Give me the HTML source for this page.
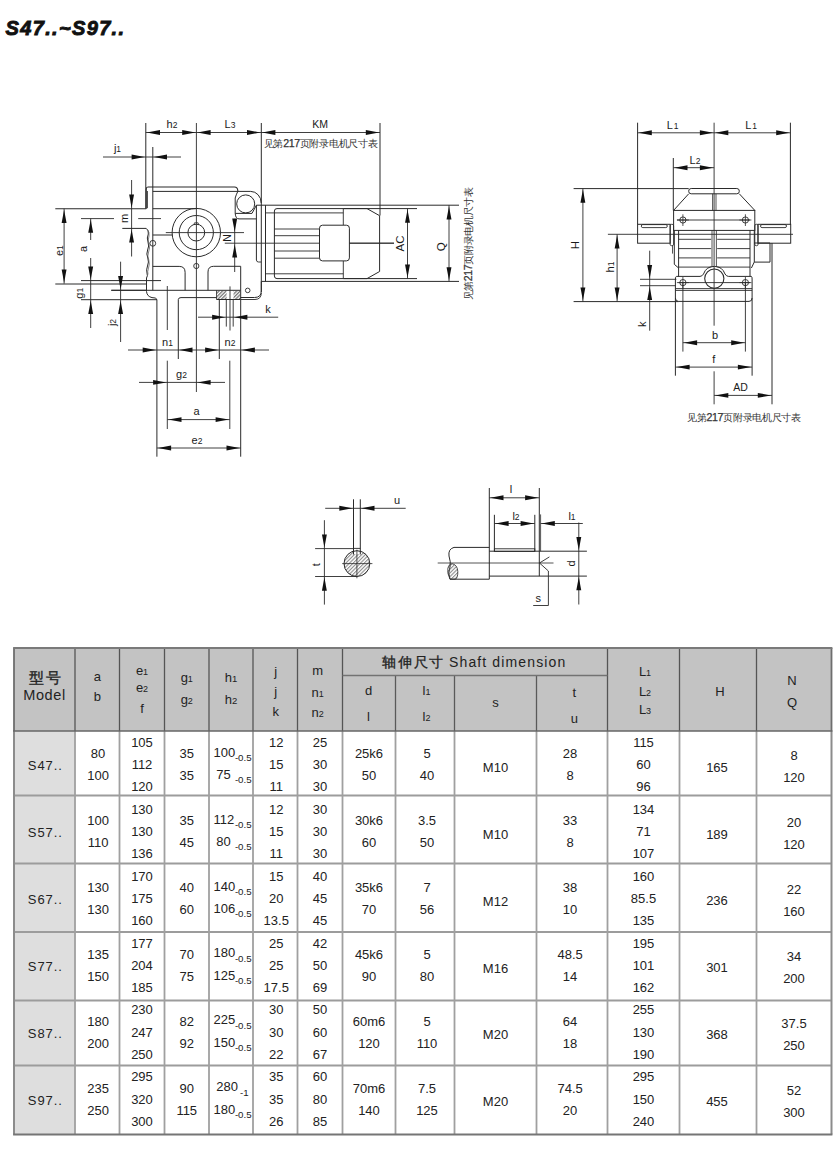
<!DOCTYPE html>
<html><head><meta charset="utf-8"><style>
html,body{margin:0;padding:0;background:#fff;}
svg{display:block;}
text{font-family:"Liberation Sans", sans-serif;}
</style></head><body>
<svg width="840" height="1154" viewBox="0 0 840 1154">
<rect width="840" height="1154" fill="#fff"/>
<rect x="14" y="648" width="817.5" height="83" fill="#c3c3c3"/>
<rect x="14" y="731" width="61" height="403.5" fill="#dedede"/>
<line x1="14" y1="795.5" x2="831.5" y2="795.5" stroke="#9c9c9c" stroke-width="1.9"/>
<line x1="14" y1="863.5" x2="831.5" y2="863.5" stroke="#9c9c9c" stroke-width="1.9"/>
<line x1="14" y1="932" x2="831.5" y2="932" stroke="#9c9c9c" stroke-width="1.9"/>
<line x1="14" y1="1000.5" x2="831.5" y2="1000.5" stroke="#9c9c9c" stroke-width="1.9"/>
<line x1="14" y1="1065.5" x2="831.5" y2="1065.5" stroke="#9c9c9c" stroke-width="1.9"/>
<line x1="14" y1="731" x2="14" y2="1134.5" stroke="#8c8c8c" stroke-width="2.0"/>
<line x1="75" y1="731" x2="75" y2="1134.5" stroke="#a0a0a0" stroke-width="1.8"/>
<line x1="119.5" y1="731" x2="119.5" y2="1134.5" stroke="#a0a0a0" stroke-width="1.8"/>
<line x1="164.5" y1="731" x2="164.5" y2="1134.5" stroke="#a0a0a0" stroke-width="1.8"/>
<line x1="209" y1="731" x2="209" y2="1134.5" stroke="#a0a0a0" stroke-width="1.8"/>
<line x1="253" y1="731" x2="253" y2="1134.5" stroke="#a0a0a0" stroke-width="1.8"/>
<line x1="297.5" y1="731" x2="297.5" y2="1134.5" stroke="#a0a0a0" stroke-width="1.8"/>
<line x1="342.5" y1="731" x2="342.5" y2="1134.5" stroke="#a0a0a0" stroke-width="1.8"/>
<line x1="395.5" y1="731" x2="395.5" y2="1134.5" stroke="#a0a0a0" stroke-width="1.8"/>
<line x1="454.5" y1="731" x2="454.5" y2="1134.5" stroke="#a0a0a0" stroke-width="1.8"/>
<line x1="536.5" y1="731" x2="536.5" y2="1134.5" stroke="#a0a0a0" stroke-width="1.8"/>
<line x1="607.5" y1="731" x2="607.5" y2="1134.5" stroke="#a0a0a0" stroke-width="1.8"/>
<line x1="679.5" y1="731" x2="679.5" y2="1134.5" stroke="#a0a0a0" stroke-width="1.8"/>
<line x1="756.5" y1="731" x2="756.5" y2="1134.5" stroke="#a0a0a0" stroke-width="1.8"/>
<line x1="831.5" y1="731" x2="831.5" y2="1134.5" stroke="#8c8c8c" stroke-width="2.0"/>
<line x1="14" y1="648" x2="14" y2="731" stroke="#6e6e6e" stroke-width="1.8"/>
<line x1="75" y1="648" x2="75" y2="731" stroke="#555" stroke-width="1.3"/>
<line x1="119.5" y1="648" x2="119.5" y2="731" stroke="#555" stroke-width="1.3"/>
<line x1="164.5" y1="648" x2="164.5" y2="731" stroke="#555" stroke-width="1.3"/>
<line x1="209" y1="648" x2="209" y2="731" stroke="#555" stroke-width="1.3"/>
<line x1="253" y1="648" x2="253" y2="731" stroke="#555" stroke-width="1.3"/>
<line x1="297.5" y1="648" x2="297.5" y2="731" stroke="#555" stroke-width="1.3"/>
<line x1="342.5" y1="648" x2="342.5" y2="731" stroke="#555" stroke-width="1.3"/>
<line x1="395.5" y1="675.5" x2="395.5" y2="731" stroke="#5a5a5a" stroke-width="1.3"/>
<line x1="454.5" y1="675.5" x2="454.5" y2="731" stroke="#5a5a5a" stroke-width="1.3"/>
<line x1="536.5" y1="675.5" x2="536.5" y2="731" stroke="#5a5a5a" stroke-width="1.3"/>
<line x1="607.5" y1="648" x2="607.5" y2="731" stroke="#555" stroke-width="1.3"/>
<line x1="679.5" y1="648" x2="679.5" y2="731" stroke="#555" stroke-width="1.3"/>
<line x1="756.5" y1="648" x2="756.5" y2="731" stroke="#555" stroke-width="1.3"/>
<line x1="831.5" y1="648" x2="831.5" y2="731" stroke="#6e6e6e" stroke-width="1.8"/>
<line x1="342.5" y1="675.5" x2="607.5" y2="675.5" stroke="#737373" stroke-width="1.3"/>
<line x1="13.1" y1="648" x2="832.4" y2="648" stroke="#7a7a7a" stroke-width="1.8"/>
<line x1="13.1" y1="731" x2="832.4" y2="731" stroke="#666" stroke-width="1.7"/>
<line x1="13.1" y1="1134.5" x2="832.4" y2="1134.5" stroke="#757575" stroke-width="2.0"/>
<text x="45.7" y="682.6" font-size="15" text-anchor="middle" letter-spacing="1.8" fill="#222" stroke="#222" stroke-width="0.35">型号</text>
<text x="44.5" y="699.5" font-size="14.5" text-anchor="middle" font-weight="normal" font-style="normal" fill="#222" letter-spacing="0.6">Model</text>
<text x="97.25" y="681" font-size="13" text-anchor="middle" font-weight="normal" font-style="normal" fill="#222">a</text>
<text x="97.25" y="700.5" font-size="13" text-anchor="middle" font-weight="normal" font-style="normal" fill="#222">b</text>
<text x="142.0" y="674.5" font-size="13" text-anchor="middle" font-weight="normal" font-style="normal" fill="#222">e<tspan font-size="9">1</tspan></text>
<text x="142.0" y="692" font-size="13" text-anchor="middle" font-weight="normal" font-style="normal" fill="#222">e<tspan font-size="9">2</tspan></text>
<text x="142.0" y="713" font-size="13" text-anchor="middle" font-weight="normal" font-style="normal" fill="#222">f</text>
<text x="186.75" y="682" font-size="13" text-anchor="middle" font-weight="normal" font-style="normal" fill="#222">g<tspan font-size="9">1</tspan></text>
<text x="186.75" y="704" font-size="13" text-anchor="middle" font-weight="normal" font-style="normal" fill="#222">g<tspan font-size="9">2</tspan></text>
<text x="231.0" y="681.6" font-size="13" text-anchor="middle" font-weight="normal" font-style="normal" fill="#222">h<tspan font-size="9.5">1</tspan></text>
<text x="231.0" y="704.2" font-size="13" text-anchor="middle" font-weight="normal" font-style="normal" fill="#222">h<tspan font-size="9.5">2</tspan></text>
<text x="275.75" y="676.3" font-size="13" text-anchor="middle" font-weight="normal" font-style="normal" fill="#222">j</text>
<text x="275.75" y="696" font-size="13" text-anchor="middle" font-weight="normal" font-style="normal" fill="#222">j</text>
<text x="275.75" y="716.3" font-size="13" text-anchor="middle" font-weight="normal" font-style="normal" fill="#222">k</text>
<text x="317.6" y="675" font-size="13" text-anchor="middle" font-weight="normal" font-style="normal" fill="#222">m</text>
<text x="317.6" y="697" font-size="13" text-anchor="middle" font-weight="normal" font-style="normal" fill="#222">n<tspan font-size="9">1</tspan></text>
<text x="317.6" y="716.5" font-size="13" text-anchor="middle" font-weight="normal" font-style="normal" fill="#222">n<tspan font-size="9">2</tspan></text>
<text x="382.4" y="667.2" font-size="14" letter-spacing="1.6" fill="#222" stroke="#222" stroke-width="0.3">轴伸尺寸</text>
<text x="449" y="667" font-size="14" text-anchor="start" font-weight="normal" font-style="normal" fill="#222" letter-spacing="1.13">Shaft dimension</text>
<text x="368.5" y="694.6" font-size="13" text-anchor="middle" font-weight="normal" font-style="normal" fill="#222">d</text>
<text x="368.5" y="721.3" font-size="13" text-anchor="middle" font-weight="normal" font-style="normal" fill="#222">l</text>
<text x="426.5" y="694.7" font-size="13" text-anchor="middle" font-weight="normal" font-style="normal" fill="#222">l<tspan font-size="9">1</tspan></text>
<text x="426.5" y="721" font-size="13" text-anchor="middle" font-weight="normal" font-style="normal" fill="#222">l<tspan font-size="9">2</tspan></text>
<text x="495.5" y="706.5" font-size="13" text-anchor="middle" font-weight="normal" font-style="normal" fill="#222">s</text>
<text x="574.3" y="696.6" font-size="13" text-anchor="middle" font-weight="normal" font-style="normal" fill="#222">t</text>
<text x="574.3" y="723" font-size="13" text-anchor="middle" font-weight="normal" font-style="normal" fill="#222">u</text>
<text x="645.0" y="675.5" font-size="13" text-anchor="middle" font-weight="normal" font-style="normal" fill="#222">L<tspan font-size="9">1</tspan></text>
<text x="645.0" y="696" font-size="13" text-anchor="middle" font-weight="normal" font-style="normal" fill="#222">L<tspan font-size="9">2</tspan></text>
<text x="645.0" y="713.5" font-size="13" text-anchor="middle" font-weight="normal" font-style="normal" fill="#222">L<tspan font-size="9">3</tspan></text>
<text x="720.0" y="695.5" font-size="13" text-anchor="middle" font-weight="normal" font-style="normal" fill="#222">H</text>
<text x="792.0" y="685" font-size="13" text-anchor="middle" font-weight="normal" font-style="normal" fill="#222">N</text>
<text x="792.0" y="706.5" font-size="13" text-anchor="middle" font-weight="normal" font-style="normal" fill="#222">Q</text>
<text x="45.3" y="770.2" font-size="13" text-anchor="middle" font-weight="normal" font-style="normal" fill="#222" letter-spacing="0.9">S47..</text>
<text x="98.05" y="758.15" font-size="13" text-anchor="middle" font-weight="normal" font-style="normal" fill="#222">80</text>
<text x="98.05" y="780.35" font-size="13" text-anchor="middle" font-weight="normal" font-style="normal" fill="#222">100</text>
<text x="142.0" y="746.75" font-size="13" text-anchor="middle" font-weight="normal" font-style="normal" fill="#222">105</text>
<text x="142.0" y="769.1" font-size="13" text-anchor="middle" font-weight="normal" font-style="normal" fill="#222">112</text>
<text x="142.0" y="791.4" font-size="13" text-anchor="middle" font-weight="normal" font-style="normal" fill="#222">120</text>
<text x="186.75" y="758.15" font-size="13" text-anchor="middle" font-weight="normal" font-style="normal" fill="#222">35</text>
<text x="186.75" y="780.35" font-size="13" text-anchor="middle" font-weight="normal" font-style="normal" fill="#222">35</text>
<text x="213.6" y="756.7" font-size="13" text-anchor="start" font-weight="normal" font-style="normal" fill="#222">100</text>
<text x="251.6" y="761.1" font-size="9.7" text-anchor="end" font-weight="normal" font-style="normal" fill="#222">-0.5</text>
<text x="216.2" y="779.0" font-size="13" text-anchor="start" font-weight="normal" font-style="normal" fill="#222">75</text>
<text x="251.6" y="783.4" font-size="9.7" text-anchor="end" font-weight="normal" font-style="normal" fill="#222">-0.5</text>
<text x="276.25" y="746.75" font-size="13" text-anchor="middle" font-weight="normal" font-style="normal" fill="#222">12</text>
<text x="276.25" y="769.1" font-size="13" text-anchor="middle" font-weight="normal" font-style="normal" fill="#222">15</text>
<text x="276.25" y="791.4" font-size="13" text-anchor="middle" font-weight="normal" font-style="normal" fill="#222">11</text>
<text x="320.0" y="746.75" font-size="13" text-anchor="middle" font-weight="normal" font-style="normal" fill="#222">25</text>
<text x="320.0" y="769.1" font-size="13" text-anchor="middle" font-weight="normal" font-style="normal" fill="#222">30</text>
<text x="320.0" y="791.4" font-size="13" text-anchor="middle" font-weight="normal" font-style="normal" fill="#222">30</text>
<text x="369.0" y="758.15" font-size="13" text-anchor="middle" font-weight="normal" font-style="normal" fill="#222">25k6</text>
<text x="369.0" y="780.35" font-size="13" text-anchor="middle" font-weight="normal" font-style="normal" fill="#222">50</text>
<text x="427.0" y="758.15" font-size="13" text-anchor="middle" font-weight="normal" font-style="normal" fill="#222">5</text>
<text x="427.0" y="780.35" font-size="13" text-anchor="middle" font-weight="normal" font-style="normal" fill="#222">40</text>
<text x="495.5" y="771.8000000000001" font-size="13" text-anchor="middle" font-weight="normal" font-style="normal" fill="#222">M10</text>
<text x="570.1" y="758.15" font-size="13" text-anchor="middle" font-weight="normal" font-style="normal" fill="#222">28</text>
<text x="570.1" y="780.35" font-size="13" text-anchor="middle" font-weight="normal" font-style="normal" fill="#222">8</text>
<text x="643.5" y="746.75" font-size="13" text-anchor="middle" font-weight="normal" font-style="normal" fill="#222">115</text>
<text x="643.5" y="769.1" font-size="13" text-anchor="middle" font-weight="normal" font-style="normal" fill="#222">60</text>
<text x="643.5" y="791.4" font-size="13" text-anchor="middle" font-weight="normal" font-style="normal" fill="#222">96</text>
<text x="717.0" y="771.6" font-size="13" text-anchor="middle" font-weight="normal" font-style="normal" fill="#222">165</text>
<text x="794.0" y="760.2" font-size="13" text-anchor="middle" font-weight="normal" font-style="normal" fill="#222">8</text>
<text x="794.0" y="782.3000000000001" font-size="13" text-anchor="middle" font-weight="normal" font-style="normal" fill="#222">120</text>
<text x="45.3" y="837.12" font-size="13" text-anchor="middle" font-weight="normal" font-style="normal" fill="#222" letter-spacing="0.9">S57..</text>
<text x="98.05" y="825.0699999999999" font-size="13" text-anchor="middle" font-weight="normal" font-style="normal" fill="#222">100</text>
<text x="98.05" y="847.27" font-size="13" text-anchor="middle" font-weight="normal" font-style="normal" fill="#222">110</text>
<text x="142.0" y="813.67" font-size="13" text-anchor="middle" font-weight="normal" font-style="normal" fill="#222">130</text>
<text x="142.0" y="836.02" font-size="13" text-anchor="middle" font-weight="normal" font-style="normal" fill="#222">130</text>
<text x="142.0" y="858.3199999999999" font-size="13" text-anchor="middle" font-weight="normal" font-style="normal" fill="#222">136</text>
<text x="186.75" y="825.0699999999999" font-size="13" text-anchor="middle" font-weight="normal" font-style="normal" fill="#222">35</text>
<text x="186.75" y="847.27" font-size="13" text-anchor="middle" font-weight="normal" font-style="normal" fill="#222">45</text>
<text x="213.6" y="823.62" font-size="13" text-anchor="start" font-weight="normal" font-style="normal" fill="#222">112</text>
<text x="251.6" y="828.02" font-size="9.7" text-anchor="end" font-weight="normal" font-style="normal" fill="#222">-0.5</text>
<text x="216.2" y="845.92" font-size="13" text-anchor="start" font-weight="normal" font-style="normal" fill="#222">80</text>
<text x="251.6" y="850.3199999999999" font-size="9.7" text-anchor="end" font-weight="normal" font-style="normal" fill="#222">-0.5</text>
<text x="276.25" y="813.67" font-size="13" text-anchor="middle" font-weight="normal" font-style="normal" fill="#222">12</text>
<text x="276.25" y="836.02" font-size="13" text-anchor="middle" font-weight="normal" font-style="normal" fill="#222">15</text>
<text x="276.25" y="858.3199999999999" font-size="13" text-anchor="middle" font-weight="normal" font-style="normal" fill="#222">11</text>
<text x="320.0" y="813.67" font-size="13" text-anchor="middle" font-weight="normal" font-style="normal" fill="#222">30</text>
<text x="320.0" y="836.02" font-size="13" text-anchor="middle" font-weight="normal" font-style="normal" fill="#222">30</text>
<text x="320.0" y="858.3199999999999" font-size="13" text-anchor="middle" font-weight="normal" font-style="normal" fill="#222">30</text>
<text x="369.0" y="825.0699999999999" font-size="13" text-anchor="middle" font-weight="normal" font-style="normal" fill="#222">30k6</text>
<text x="369.0" y="847.27" font-size="13" text-anchor="middle" font-weight="normal" font-style="normal" fill="#222">60</text>
<text x="427.0" y="825.0699999999999" font-size="13" text-anchor="middle" font-weight="normal" font-style="normal" fill="#222">3.5</text>
<text x="427.0" y="847.27" font-size="13" text-anchor="middle" font-weight="normal" font-style="normal" fill="#222">50</text>
<text x="495.5" y="838.72" font-size="13" text-anchor="middle" font-weight="normal" font-style="normal" fill="#222">M10</text>
<text x="570.1" y="825.0699999999999" font-size="13" text-anchor="middle" font-weight="normal" font-style="normal" fill="#222">33</text>
<text x="570.1" y="847.27" font-size="13" text-anchor="middle" font-weight="normal" font-style="normal" fill="#222">8</text>
<text x="643.5" y="813.67" font-size="13" text-anchor="middle" font-weight="normal" font-style="normal" fill="#222">134</text>
<text x="643.5" y="836.02" font-size="13" text-anchor="middle" font-weight="normal" font-style="normal" fill="#222">71</text>
<text x="643.5" y="858.3199999999999" font-size="13" text-anchor="middle" font-weight="normal" font-style="normal" fill="#222">107</text>
<text x="717.0" y="838.52" font-size="13" text-anchor="middle" font-weight="normal" font-style="normal" fill="#222">189</text>
<text x="794.0" y="827.12" font-size="13" text-anchor="middle" font-weight="normal" font-style="normal" fill="#222">20</text>
<text x="794.0" y="849.22" font-size="13" text-anchor="middle" font-weight="normal" font-style="normal" fill="#222">120</text>
<text x="45.3" y="904.0400000000001" font-size="13" text-anchor="middle" font-weight="normal" font-style="normal" fill="#222" letter-spacing="0.9">S67..</text>
<text x="98.05" y="891.99" font-size="13" text-anchor="middle" font-weight="normal" font-style="normal" fill="#222">130</text>
<text x="98.05" y="914.19" font-size="13" text-anchor="middle" font-weight="normal" font-style="normal" fill="#222">130</text>
<text x="142.0" y="880.59" font-size="13" text-anchor="middle" font-weight="normal" font-style="normal" fill="#222">170</text>
<text x="142.0" y="902.94" font-size="13" text-anchor="middle" font-weight="normal" font-style="normal" fill="#222">175</text>
<text x="142.0" y="925.24" font-size="13" text-anchor="middle" font-weight="normal" font-style="normal" fill="#222">160</text>
<text x="186.75" y="891.99" font-size="13" text-anchor="middle" font-weight="normal" font-style="normal" fill="#222">40</text>
<text x="186.75" y="914.19" font-size="13" text-anchor="middle" font-weight="normal" font-style="normal" fill="#222">60</text>
<text x="213.6" y="890.5400000000001" font-size="13" text-anchor="start" font-weight="normal" font-style="normal" fill="#222">140</text>
<text x="251.6" y="894.94" font-size="9.7" text-anchor="end" font-weight="normal" font-style="normal" fill="#222">-0.5</text>
<text x="213.6" y="912.84" font-size="13" text-anchor="start" font-weight="normal" font-style="normal" fill="#222">106</text>
<text x="251.6" y="917.24" font-size="9.7" text-anchor="end" font-weight="normal" font-style="normal" fill="#222">-0.5</text>
<text x="276.25" y="880.59" font-size="13" text-anchor="middle" font-weight="normal" font-style="normal" fill="#222">15</text>
<text x="276.25" y="902.94" font-size="13" text-anchor="middle" font-weight="normal" font-style="normal" fill="#222">20</text>
<text x="276.25" y="925.24" font-size="13" text-anchor="middle" font-weight="normal" font-style="normal" fill="#222">13.5</text>
<text x="320.0" y="880.59" font-size="13" text-anchor="middle" font-weight="normal" font-style="normal" fill="#222">40</text>
<text x="320.0" y="902.94" font-size="13" text-anchor="middle" font-weight="normal" font-style="normal" fill="#222">45</text>
<text x="320.0" y="925.24" font-size="13" text-anchor="middle" font-weight="normal" font-style="normal" fill="#222">45</text>
<text x="369.0" y="891.99" font-size="13" text-anchor="middle" font-weight="normal" font-style="normal" fill="#222">35k6</text>
<text x="369.0" y="914.19" font-size="13" text-anchor="middle" font-weight="normal" font-style="normal" fill="#222">70</text>
<text x="427.0" y="891.99" font-size="13" text-anchor="middle" font-weight="normal" font-style="normal" fill="#222">7</text>
<text x="427.0" y="914.19" font-size="13" text-anchor="middle" font-weight="normal" font-style="normal" fill="#222">56</text>
<text x="495.5" y="905.6400000000001" font-size="13" text-anchor="middle" font-weight="normal" font-style="normal" fill="#222">M12</text>
<text x="570.1" y="891.99" font-size="13" text-anchor="middle" font-weight="normal" font-style="normal" fill="#222">38</text>
<text x="570.1" y="914.19" font-size="13" text-anchor="middle" font-weight="normal" font-style="normal" fill="#222">10</text>
<text x="643.5" y="880.59" font-size="13" text-anchor="middle" font-weight="normal" font-style="normal" fill="#222">160</text>
<text x="643.5" y="902.94" font-size="13" text-anchor="middle" font-weight="normal" font-style="normal" fill="#222">85.5</text>
<text x="643.5" y="925.24" font-size="13" text-anchor="middle" font-weight="normal" font-style="normal" fill="#222">135</text>
<text x="717.0" y="905.44" font-size="13" text-anchor="middle" font-weight="normal" font-style="normal" fill="#222">236</text>
<text x="794.0" y="894.0400000000001" font-size="13" text-anchor="middle" font-weight="normal" font-style="normal" fill="#222">22</text>
<text x="794.0" y="916.1400000000001" font-size="13" text-anchor="middle" font-weight="normal" font-style="normal" fill="#222">160</text>
<text x="45.3" y="970.96" font-size="13" text-anchor="middle" font-weight="normal" font-style="normal" fill="#222" letter-spacing="0.9">S77..</text>
<text x="98.05" y="958.91" font-size="13" text-anchor="middle" font-weight="normal" font-style="normal" fill="#222">135</text>
<text x="98.05" y="981.11" font-size="13" text-anchor="middle" font-weight="normal" font-style="normal" fill="#222">150</text>
<text x="142.0" y="947.51" font-size="13" text-anchor="middle" font-weight="normal" font-style="normal" fill="#222">177</text>
<text x="142.0" y="969.86" font-size="13" text-anchor="middle" font-weight="normal" font-style="normal" fill="#222">204</text>
<text x="142.0" y="992.16" font-size="13" text-anchor="middle" font-weight="normal" font-style="normal" fill="#222">185</text>
<text x="186.75" y="958.91" font-size="13" text-anchor="middle" font-weight="normal" font-style="normal" fill="#222">70</text>
<text x="186.75" y="981.11" font-size="13" text-anchor="middle" font-weight="normal" font-style="normal" fill="#222">75</text>
<text x="213.6" y="957.46" font-size="13" text-anchor="start" font-weight="normal" font-style="normal" fill="#222">180</text>
<text x="251.6" y="961.86" font-size="9.7" text-anchor="end" font-weight="normal" font-style="normal" fill="#222">-0.5</text>
<text x="213.6" y="979.76" font-size="13" text-anchor="start" font-weight="normal" font-style="normal" fill="#222">125</text>
<text x="251.6" y="984.16" font-size="9.7" text-anchor="end" font-weight="normal" font-style="normal" fill="#222">-0.5</text>
<text x="276.25" y="947.51" font-size="13" text-anchor="middle" font-weight="normal" font-style="normal" fill="#222">25</text>
<text x="276.25" y="969.86" font-size="13" text-anchor="middle" font-weight="normal" font-style="normal" fill="#222">25</text>
<text x="276.25" y="992.16" font-size="13" text-anchor="middle" font-weight="normal" font-style="normal" fill="#222">17.5</text>
<text x="320.0" y="947.51" font-size="13" text-anchor="middle" font-weight="normal" font-style="normal" fill="#222">42</text>
<text x="320.0" y="969.86" font-size="13" text-anchor="middle" font-weight="normal" font-style="normal" fill="#222">50</text>
<text x="320.0" y="992.16" font-size="13" text-anchor="middle" font-weight="normal" font-style="normal" fill="#222">69</text>
<text x="369.0" y="958.91" font-size="13" text-anchor="middle" font-weight="normal" font-style="normal" fill="#222">45k6</text>
<text x="369.0" y="981.11" font-size="13" text-anchor="middle" font-weight="normal" font-style="normal" fill="#222">90</text>
<text x="427.0" y="958.91" font-size="13" text-anchor="middle" font-weight="normal" font-style="normal" fill="#222">5</text>
<text x="427.0" y="981.11" font-size="13" text-anchor="middle" font-weight="normal" font-style="normal" fill="#222">80</text>
<text x="495.5" y="972.5600000000001" font-size="13" text-anchor="middle" font-weight="normal" font-style="normal" fill="#222">M16</text>
<text x="570.1" y="958.91" font-size="13" text-anchor="middle" font-weight="normal" font-style="normal" fill="#222">48.5</text>
<text x="570.1" y="981.11" font-size="13" text-anchor="middle" font-weight="normal" font-style="normal" fill="#222">14</text>
<text x="643.5" y="947.51" font-size="13" text-anchor="middle" font-weight="normal" font-style="normal" fill="#222">195</text>
<text x="643.5" y="969.86" font-size="13" text-anchor="middle" font-weight="normal" font-style="normal" fill="#222">101</text>
<text x="643.5" y="992.16" font-size="13" text-anchor="middle" font-weight="normal" font-style="normal" fill="#222">162</text>
<text x="717.0" y="972.36" font-size="13" text-anchor="middle" font-weight="normal" font-style="normal" fill="#222">301</text>
<text x="794.0" y="960.96" font-size="13" text-anchor="middle" font-weight="normal" font-style="normal" fill="#222">34</text>
<text x="794.0" y="983.0600000000001" font-size="13" text-anchor="middle" font-weight="normal" font-style="normal" fill="#222">200</text>
<text x="45.3" y="1037.8799999999999" font-size="13" text-anchor="middle" font-weight="normal" font-style="normal" fill="#222" letter-spacing="0.9">S87..</text>
<text x="98.05" y="1025.83" font-size="13" text-anchor="middle" font-weight="normal" font-style="normal" fill="#222">180</text>
<text x="98.05" y="1048.03" font-size="13" text-anchor="middle" font-weight="normal" font-style="normal" fill="#222">200</text>
<text x="142.0" y="1014.43" font-size="13" text-anchor="middle" font-weight="normal" font-style="normal" fill="#222">230</text>
<text x="142.0" y="1036.78" font-size="13" text-anchor="middle" font-weight="normal" font-style="normal" fill="#222">247</text>
<text x="142.0" y="1059.08" font-size="13" text-anchor="middle" font-weight="normal" font-style="normal" fill="#222">250</text>
<text x="186.75" y="1025.83" font-size="13" text-anchor="middle" font-weight="normal" font-style="normal" fill="#222">82</text>
<text x="186.75" y="1048.03" font-size="13" text-anchor="middle" font-weight="normal" font-style="normal" fill="#222">92</text>
<text x="213.6" y="1024.3799999999999" font-size="13" text-anchor="start" font-weight="normal" font-style="normal" fill="#222">225</text>
<text x="251.6" y="1028.78" font-size="9.7" text-anchor="end" font-weight="normal" font-style="normal" fill="#222">-0.5</text>
<text x="213.6" y="1046.68" font-size="13" text-anchor="start" font-weight="normal" font-style="normal" fill="#222">150</text>
<text x="251.6" y="1051.0800000000002" font-size="9.7" text-anchor="end" font-weight="normal" font-style="normal" fill="#222">-0.5</text>
<text x="276.25" y="1014.43" font-size="13" text-anchor="middle" font-weight="normal" font-style="normal" fill="#222">30</text>
<text x="276.25" y="1036.78" font-size="13" text-anchor="middle" font-weight="normal" font-style="normal" fill="#222">30</text>
<text x="276.25" y="1059.08" font-size="13" text-anchor="middle" font-weight="normal" font-style="normal" fill="#222">22</text>
<text x="320.0" y="1014.43" font-size="13" text-anchor="middle" font-weight="normal" font-style="normal" fill="#222">50</text>
<text x="320.0" y="1036.78" font-size="13" text-anchor="middle" font-weight="normal" font-style="normal" fill="#222">60</text>
<text x="320.0" y="1059.08" font-size="13" text-anchor="middle" font-weight="normal" font-style="normal" fill="#222">67</text>
<text x="369.0" y="1025.83" font-size="13" text-anchor="middle" font-weight="normal" font-style="normal" fill="#222">60m6</text>
<text x="369.0" y="1048.03" font-size="13" text-anchor="middle" font-weight="normal" font-style="normal" fill="#222">120</text>
<text x="427.0" y="1025.83" font-size="13" text-anchor="middle" font-weight="normal" font-style="normal" fill="#222">5</text>
<text x="427.0" y="1048.03" font-size="13" text-anchor="middle" font-weight="normal" font-style="normal" fill="#222">110</text>
<text x="495.5" y="1039.48" font-size="13" text-anchor="middle" font-weight="normal" font-style="normal" fill="#222">M20</text>
<text x="570.1" y="1025.83" font-size="13" text-anchor="middle" font-weight="normal" font-style="normal" fill="#222">64</text>
<text x="570.1" y="1048.03" font-size="13" text-anchor="middle" font-weight="normal" font-style="normal" fill="#222">18</text>
<text x="643.5" y="1014.43" font-size="13" text-anchor="middle" font-weight="normal" font-style="normal" fill="#222">255</text>
<text x="643.5" y="1036.78" font-size="13" text-anchor="middle" font-weight="normal" font-style="normal" fill="#222">130</text>
<text x="643.5" y="1059.08" font-size="13" text-anchor="middle" font-weight="normal" font-style="normal" fill="#222">190</text>
<text x="717.0" y="1039.28" font-size="13" text-anchor="middle" font-weight="normal" font-style="normal" fill="#222">368</text>
<text x="794.0" y="1027.8799999999999" font-size="13" text-anchor="middle" font-weight="normal" font-style="normal" fill="#222">37.5</text>
<text x="794.0" y="1049.98" font-size="13" text-anchor="middle" font-weight="normal" font-style="normal" fill="#222">250</text>
<text x="45.3" y="1104.8" font-size="13" text-anchor="middle" font-weight="normal" font-style="normal" fill="#222" letter-spacing="0.9">S97..</text>
<text x="98.05" y="1092.75" font-size="13" text-anchor="middle" font-weight="normal" font-style="normal" fill="#222">235</text>
<text x="98.05" y="1114.95" font-size="13" text-anchor="middle" font-weight="normal" font-style="normal" fill="#222">250</text>
<text x="142.0" y="1081.3500000000001" font-size="13" text-anchor="middle" font-weight="normal" font-style="normal" fill="#222">295</text>
<text x="142.0" y="1103.7" font-size="13" text-anchor="middle" font-weight="normal" font-style="normal" fill="#222">320</text>
<text x="142.0" y="1126.0" font-size="13" text-anchor="middle" font-weight="normal" font-style="normal" fill="#222">300</text>
<text x="186.75" y="1092.75" font-size="13" text-anchor="middle" font-weight="normal" font-style="normal" fill="#222">90</text>
<text x="186.75" y="1114.95" font-size="13" text-anchor="middle" font-weight="normal" font-style="normal" fill="#222">115</text>
<text x="216.2" y="1091.3" font-size="13" text-anchor="start" font-weight="normal" font-style="normal" fill="#222">280</text>
<text x="240" y="1095.7" font-size="9.7" text-anchor="start" font-weight="normal" font-style="normal" fill="#222">-1</text>
<text x="213.6" y="1113.6000000000001" font-size="13" text-anchor="start" font-weight="normal" font-style="normal" fill="#222">180</text>
<text x="251.6" y="1118.0000000000002" font-size="9.7" text-anchor="end" font-weight="normal" font-style="normal" fill="#222">-0.5</text>
<text x="276.25" y="1081.3500000000001" font-size="13" text-anchor="middle" font-weight="normal" font-style="normal" fill="#222">35</text>
<text x="276.25" y="1103.7" font-size="13" text-anchor="middle" font-weight="normal" font-style="normal" fill="#222">35</text>
<text x="276.25" y="1126.0" font-size="13" text-anchor="middle" font-weight="normal" font-style="normal" fill="#222">26</text>
<text x="320.0" y="1081.3500000000001" font-size="13" text-anchor="middle" font-weight="normal" font-style="normal" fill="#222">60</text>
<text x="320.0" y="1103.7" font-size="13" text-anchor="middle" font-weight="normal" font-style="normal" fill="#222">80</text>
<text x="320.0" y="1126.0" font-size="13" text-anchor="middle" font-weight="normal" font-style="normal" fill="#222">85</text>
<text x="369.0" y="1092.75" font-size="13" text-anchor="middle" font-weight="normal" font-style="normal" fill="#222">70m6</text>
<text x="369.0" y="1114.95" font-size="13" text-anchor="middle" font-weight="normal" font-style="normal" fill="#222">140</text>
<text x="427.0" y="1092.75" font-size="13" text-anchor="middle" font-weight="normal" font-style="normal" fill="#222">7.5</text>
<text x="427.0" y="1114.95" font-size="13" text-anchor="middle" font-weight="normal" font-style="normal" fill="#222">125</text>
<text x="495.5" y="1106.4" font-size="13" text-anchor="middle" font-weight="normal" font-style="normal" fill="#222">M20</text>
<text x="570.1" y="1092.75" font-size="13" text-anchor="middle" font-weight="normal" font-style="normal" fill="#222">74.5</text>
<text x="570.1" y="1114.95" font-size="13" text-anchor="middle" font-weight="normal" font-style="normal" fill="#222">20</text>
<text x="643.5" y="1081.3500000000001" font-size="13" text-anchor="middle" font-weight="normal" font-style="normal" fill="#222">295</text>
<text x="643.5" y="1103.7" font-size="13" text-anchor="middle" font-weight="normal" font-style="normal" fill="#222">150</text>
<text x="643.5" y="1126.0" font-size="13" text-anchor="middle" font-weight="normal" font-style="normal" fill="#222">240</text>
<text x="717.0" y="1106.2" font-size="13" text-anchor="middle" font-weight="normal" font-style="normal" fill="#222">455</text>
<text x="794.0" y="1094.8" font-size="13" text-anchor="middle" font-weight="normal" font-style="normal" fill="#222">52</text>
<text x="794.0" y="1116.9" font-size="13" text-anchor="middle" font-weight="normal" font-style="normal" fill="#222">300</text>
<line x1="145.8" y1="123" x2="145.8" y2="208.7" stroke="#2a2a2a" stroke-width="1.0"/>
<line x1="196.4" y1="123" x2="196.4" y2="392" stroke="#2a2a2a" stroke-width="0.9"/>
<line x1="261.3" y1="123" x2="261.3" y2="292" stroke="#2a2a2a" stroke-width="1.0"/>
<line x1="380" y1="123" x2="380" y2="215.5" stroke="#2a2a2a" stroke-width="1.0"/>
<line x1="152.8" y1="147" x2="152.8" y2="290.3" stroke="#2a2a2a" stroke-width="1.0"/>
<line x1="145.8" y1="132.5" x2="380" y2="132.5" stroke="#2a2a2a" stroke-width="0.9"/>
<polygon points="146.80,132.50 160.00,130.05 160.00,134.95" fill="#111"/>
<polygon points="195.40,132.50 182.20,134.95 182.20,130.05" fill="#111"/>
<polygon points="197.40,132.50 210.60,130.05 210.60,134.95" fill="#111"/>
<polygon points="260.20,132.50 247.00,134.95 247.00,130.05" fill="#111"/>
<polygon points="262.20,132.50 275.40,130.05 275.40,134.95" fill="#111"/>
<polygon points="379.00,132.50 365.80,134.95 365.80,130.05" fill="#111"/>
<text x="172" y="128" font-size="11" text-anchor="middle" font-weight="normal" font-style="normal" fill="#1a1a1a">h<tspan font-size="8.5">2</tspan></text>
<text x="230" y="128" font-size="11" text-anchor="middle" font-weight="normal" font-style="normal" fill="#1a1a1a">L<tspan font-size="8.5">3</tspan></text>
<text x="320" y="127.8" font-size="10.5" text-anchor="middle" font-weight="normal" font-style="normal" fill="#1a1a1a">KM</text>
<text x="320.7" y="146.6" font-size="9.5" text-anchor="middle" font-weight="normal" font-style="normal" fill="#333" letter-spacing="-0.26">见第<tspan font-size="10.6" stroke="#333" stroke-width="0.25" letter-spacing="-0.4">217</tspan>页附录电机尺寸表</text>
<line x1="103" y1="157" x2="181" y2="157" stroke="#2a2a2a" stroke-width="0.9"/>
<polygon points="144.80,157.00 131.60,159.45 131.60,154.55" fill="#111"/>
<polygon points="153.80,157.00 167.00,154.55 167.00,159.45" fill="#111"/>
<text x="117.5" y="152.2" font-size="11" text-anchor="middle" font-weight="normal" font-style="normal" fill="#1a1a1a">j<tspan font-size="8.5">1</tspan></text>
<path d="M146.2,208.7 L146.2,189 Q146.2,187 148,187 L234.5,187 Q237.5,187 237.8,190.5 L237.8,191.4" fill="none" stroke="#2a2a2a" stroke-width="1.1"/>
<line x1="147.3" y1="191" x2="147.3" y2="208.2" stroke="#2a2a2a" stroke-width="1.0"/>
<path d="M152.8,191.4 L250.7,191.4 A10.5,11.5 0 0 1 261.2,203" fill="none" stroke="#2a2a2a" stroke-width="1.0"/>
<path d="M237.8,191.4 Q236,195 235.2,198 L235.2,213.4 L252,213.4 L256.4,205.2" fill="none" stroke="#2a2a2a" stroke-width="1.0"/>
<circle cx="245.7" cy="203.9" r="9.0" fill="none" stroke="#2a2a2a" stroke-width="1.0"/>
<path d="M235.2,213.4 Q235.6,218.9 239,218.9 L256.4,218.9" fill="none" stroke="#2a2a2a" stroke-width="1.0"/>
<line x1="55.3" y1="208.7" x2="146.2" y2="208.7" stroke="#2a2a2a" stroke-width="1.1"/>
<line x1="152.8" y1="208.7" x2="196.4" y2="208.7" stroke="#2a2a2a" stroke-width="1.0"/>
<line x1="81" y1="218.6" x2="114" y2="218.6" stroke="#2a2a2a" stroke-width="0.9"/>
<line x1="138.2" y1="218.6" x2="161" y2="218.6" stroke="#2a2a2a" stroke-width="0.9"/>
<line x1="122.3" y1="228.4" x2="146.2" y2="228.4" stroke="#2a2a2a" stroke-width="1.0"/>
<path d="M146.2,228.4 Q149,230 148.3,234 Q146.5,238 148,242 Q149.5,246 147.6,250 Q146,254 147.8,258 Q149.2,262 147.5,266 Q146,270 147,273 Q148,276 146.5,278 L146.5,284" fill="none" stroke="#2a2a2a" stroke-width="1.0"/>
<path d="M147.2,230 Q149.8,232 149,236 Q147.5,240 149,244 Q150.3,248 148.6,252 Q147,256 148.8,260 Q150,264 148.5,268 Q147.2,272 148,274.5" fill="none" stroke="#555" stroke-width="0.7"/>
<line x1="152.8" y1="235" x2="172.5" y2="235" stroke="#2a2a2a" stroke-width="1.0"/>
<circle cx="152.8" cy="243.3" r="2.9" fill="none" stroke="#2a2a2a" stroke-width="0.9"/>
<circle cx="196.3" cy="232.6" r="24.2" fill="none" stroke="#2a2a2a" stroke-width="1.0"/>
<circle cx="196.3" cy="232.6" r="17.1" fill="none" stroke="#2a2a2a" stroke-width="1.0"/>
<circle cx="196.3" cy="232.6" r="8.4" fill="none" stroke="#2a2a2a" stroke-width="1.0"/>
<path d="M194,224.6 L194.5,222.8 L198.1,222.8 L198.6,224.6" fill="none" stroke="#2a2a2a" stroke-width="0.8"/>
<line x1="165.8" y1="232.6" x2="244" y2="232.6" stroke="#2a2a2a" stroke-width="0.9"/>
<circle cx="196.3" cy="266" r="2.6" fill="none" stroke="#2a2a2a" stroke-width="0.9"/>
<path d="M152.8,266.4 L179.2,266.4 Q185.1,266.4 185.1,272.3 L185.1,290.3" fill="none" stroke="#2a2a2a" stroke-width="1.0"/>
<path d="M208,290.3 L208,272 Q208,266.3 213.7,266.3 L240.7,266.3 L240.7,299.8" fill="none" stroke="#2a2a2a" stroke-width="1.0"/>
<line x1="111.3" y1="290.3" x2="240.5" y2="290.3" stroke="#2a2a2a" stroke-width="1.0"/>
<path d="M146.5,284 L146.5,291.5 Q147,296.5 152,297.6 L155.2,298 Q156.9,298.6 156.9,300" fill="none" stroke="#2a2a2a" stroke-width="1.0"/>
<path d="M178.3,300 L178.3,299.5 Q178.5,297.6 181,297.6 L216.6,297.6" fill="none" stroke="#2a2a2a" stroke-width="1.0"/>
<defs><pattern id="hat" patternUnits="userSpaceOnUse" width="2.5" height="2.5" patternTransform="rotate(45)"><line x1="0.7" y1="0" x2="0.7" y2="2.5" stroke="#444" stroke-width="0.95"/></pattern></defs>
<rect x="216.5" y="290.6" width="10.1" height="8.8" fill="url(#hat)"/>
<rect x="233.5" y="290.6" width="6.9" height="8.8" fill="url(#hat)"/>
<line x1="216.5" y1="290.4" x2="216.5" y2="299.5" stroke="#2a2a2a" stroke-width="0.8"/>
<line x1="216.5" y1="299.5" x2="240.5" y2="299.5" stroke="#2a2a2a" stroke-width="1.0"/>
<path d="M240.5,297.5 L254.5,297.5 Q261.3,297.5 261.3,291 L261.3,281.3" fill="none" stroke="#2a2a2a" stroke-width="1.0"/>
<path d="M240.5,299.5 L255,299.5 Q261.3,299.3 261.3,293" fill="none" stroke="#2a2a2a" stroke-width="0.9"/>
<circle cx="247.7" cy="290.4" r="2.3" fill="none" stroke="#2a2a2a" stroke-width="0.9"/>
<line x1="256.4" y1="205.2" x2="459" y2="205.2" stroke="#2a2a2a" stroke-width="1.0"/>
<line x1="261.6" y1="281.4" x2="459" y2="281.4" stroke="#2a2a2a" stroke-width="1.0"/>
<line x1="256.4" y1="205.2" x2="256.4" y2="260" stroke="#2a2a2a" stroke-width="1.0"/>
<path d="M256.4,260 Q256.5,262 258.5,262 L261.2,262" fill="none" stroke="#2a2a2a" stroke-width="0.9"/>
<line x1="265.5" y1="205.2" x2="265.5" y2="281.4" stroke="#2a2a2a" stroke-width="1.0"/>
<line x1="265.5" y1="212.9" x2="343.3" y2="212.9" stroke="#2a2a2a" stroke-width="0.9"/>
<line x1="265.5" y1="273.8" x2="343.3" y2="273.8" stroke="#2a2a2a" stroke-width="0.9"/>
<path d="M343.3,208.6 L277,208.6 Q274.4,208.6 274.4,211 L274.4,276 Q274.4,278.6 277,278.6 L343.3,278.6" fill="none" stroke="#2a2a2a" stroke-width="1.0"/>
<line x1="343.3" y1="208.6" x2="343.3" y2="225.2" stroke="#2a2a2a" stroke-width="0.9"/>
<line x1="343.3" y1="261" x2="343.3" y2="278.6" stroke="#2a2a2a" stroke-width="0.9"/>
<line x1="274.4" y1="229" x2="319.5" y2="229" stroke="#2a2a2a" stroke-width="0.9"/>
<line x1="274.4" y1="235.7" x2="319.5" y2="235.7" stroke="#2a2a2a" stroke-width="0.9"/>
<line x1="274.4" y1="251" x2="319.5" y2="251" stroke="#2a2a2a" stroke-width="0.9"/>
<line x1="274.4" y1="258.2" x2="319.5" y2="258.2" stroke="#2a2a2a" stroke-width="0.9"/>
<line x1="224.8" y1="243.2" x2="394" y2="243.2" stroke="#2a2a2a" stroke-width="0.9"/>
<rect x="319.5" y="225.2" width="29.9" height="35.7" rx="3" fill="#fff" stroke="#2a2a2a" stroke-width="1"/>
<line x1="349.4" y1="243.2" x2="394" y2="243.2" stroke="#2a2a2a" stroke-width="0.9"/>
<path d="M343.3,208.6 L367,208.6 L379.6,215.7 L379.6,271.5 L367,278.6 L343.3,278.6" fill="none" stroke="#2a2a2a" stroke-width="1.0"/>
<line x1="343.3" y1="208.6" x2="417" y2="208.6" stroke="#2a2a2a" stroke-width="1.0"/>
<line x1="343.3" y1="278.6" x2="417" y2="278.6" stroke="#2a2a2a" stroke-width="1.0"/>
<line x1="407.5" y1="208.6" x2="407.5" y2="278.6" stroke="#2a2a2a" stroke-width="0.9"/>
<polygon points="407.50,209.60 409.95,222.80 405.05,222.80" fill="#111"/>
<polygon points="407.50,277.60 405.05,264.40 409.95,264.40" fill="#111"/>
<line x1="449" y1="205.2" x2="449" y2="281.4" stroke="#2a2a2a" stroke-width="0.9"/>
<polygon points="449.00,206.20 451.45,219.40 446.55,219.40" fill="#111"/>
<polygon points="449.00,280.40 446.55,267.20 451.45,267.20" fill="#111"/>
<text x="403.8" y="243.4" font-size="11.5" text-anchor="middle" font-weight="normal" font-style="normal" fill="#1a1a1a" transform="rotate(-90 403.8 243.4)">AC</text>
<text x="445" y="246.8" font-size="11.5" text-anchor="middle" font-weight="normal" font-style="normal" fill="#1a1a1a" transform="rotate(-90 445 246.8)">Q</text>
<text x="472.4" y="244" font-size="9.5" text-anchor="middle" font-weight="normal" font-style="normal" fill="#333" letter-spacing="-0.36" transform="rotate(-90 472.4 244)">见第<tspan font-size="10.6" stroke="#333" stroke-width="0.25" letter-spacing="-0.4">217</tspan>页附录电机尺寸表</text>
<line x1="234.7" y1="218.9" x2="234.7" y2="272" stroke="#2a2a2a" stroke-width="0.9"/>
<polygon points="234.70,231.60 232.25,218.40 237.15,218.40" fill="#111"/>
<polygon points="234.70,244.20 237.15,257.40 232.25,257.40" fill="#111"/>
<text x="231" y="238" font-size="10.5" text-anchor="middle" font-weight="normal" font-style="normal" fill="#1a1a1a" transform="rotate(-90 231 238)">N</text>
<line x1="131.6" y1="180" x2="131.6" y2="256.5" stroke="#2a2a2a" stroke-width="0.9"/>
<polygon points="131.60,207.70 129.15,194.50 134.05,194.50" fill="#111"/>
<polygon points="131.60,229.40 134.05,242.60 129.15,242.60" fill="#111"/>
<text x="128" y="218.4" font-size="11" text-anchor="middle" font-weight="normal" font-style="normal" fill="#1a1a1a" transform="rotate(-90 128 218.4)">m</text>
<line x1="64.1" y1="208.7" x2="64.1" y2="283.7" stroke="#2a2a2a" stroke-width="0.9"/>
<polygon points="64.10,209.70 66.55,222.90 61.65,222.90" fill="#111"/>
<polygon points="64.10,282.70 61.65,269.50 66.55,269.50" fill="#111"/>
<text x="63" y="250.6" font-size="11" text-anchor="middle" font-weight="normal" font-style="normal" fill="#1a1a1a" transform="rotate(-90 63 250.6)">e<tspan font-size="8.5">1</tspan></text>
<line x1="55.3" y1="284" x2="146.5" y2="284" stroke="#2a2a2a" stroke-width="1.0"/>
<line x1="90.7" y1="218.6" x2="90.7" y2="240" stroke="#2a2a2a" stroke-width="0.9"/>
<line x1="90.7" y1="258" x2="90.7" y2="328" stroke="#2a2a2a" stroke-width="0.9"/>
<polygon points="90.70,219.60 93.15,232.80 88.25,232.80" fill="#111"/>
<polygon points="90.70,279.60 88.25,266.40 93.15,266.40" fill="#111"/>
<text x="87" y="249" font-size="11" text-anchor="middle" font-weight="normal" font-style="normal" fill="#1a1a1a" transform="rotate(-90 87 249)">a</text>
<line x1="81" y1="280.6" x2="161" y2="280.6" stroke="#2a2a2a" stroke-width="1.0"/>
<polygon points="90.70,300.70 93.15,313.90 88.25,313.90" fill="#111"/>
<text x="83.2" y="293.3" font-size="11" text-anchor="middle" font-weight="normal" font-style="normal" fill="#1a1a1a" transform="rotate(-90 83.2 293.3)">g<tspan font-size="8.5">1</tspan></text>
<line x1="81" y1="299.7" x2="156.9" y2="299.7" stroke="#2a2a2a" stroke-width="1.0"/>
<line x1="111.3" y1="290.3" x2="146.5" y2="290.3" stroke="#2a2a2a" stroke-width="1.0"/>
<line x1="120.6" y1="261.7" x2="120.6" y2="342" stroke="#2a2a2a" stroke-width="0.9"/>
<polygon points="120.60,289.30 118.15,276.10 123.05,276.10" fill="#111"/>
<polygon points="120.60,300.70 123.05,313.90 118.15,313.90" fill="#111"/>
<text x="115.6" y="322.5" font-size="11" text-anchor="middle" font-weight="normal" font-style="normal" fill="#1a1a1a" transform="rotate(-90 115.6 322.5)">j<tspan font-size="8.5">2</tspan></text>
<line x1="156.9" y1="300" x2="156.9" y2="456.7" stroke="#2a2a2a" stroke-width="1.0"/>
<line x1="178.3" y1="300" x2="178.3" y2="359" stroke="#2a2a2a" stroke-width="1.0"/>
<line x1="167.3" y1="286" x2="167.3" y2="330" stroke="#2a2a2a" stroke-width="0.9"/>
<line x1="167.3" y1="360.7" x2="167.3" y2="429" stroke="#2a2a2a" stroke-width="0.9"/>
<line x1="219.3" y1="299.8" x2="219.3" y2="359" stroke="#2a2a2a" stroke-width="1.0"/>
<line x1="230" y1="286.4" x2="230" y2="330.5" stroke="#2a2a2a" stroke-width="0.9"/>
<line x1="226.3" y1="299.8" x2="226.3" y2="326.6" stroke="#2a2a2a" stroke-width="0.9"/>
<line x1="233.2" y1="299.8" x2="233.2" y2="326.6" stroke="#2a2a2a" stroke-width="0.9"/>
<line x1="229.8" y1="360.7" x2="229.8" y2="429" stroke="#2a2a2a" stroke-width="0.9"/>
<line x1="240.7" y1="299.8" x2="240.7" y2="456.7" stroke="#2a2a2a" stroke-width="1.0"/>
<line x1="198" y1="317.2" x2="278.2" y2="317.2" stroke="#2a2a2a" stroke-width="0.9"/>
<polygon points="225.30,317.20 212.10,319.65 212.10,314.75" fill="#111"/>
<polygon points="234.20,317.20 247.40,314.75 247.40,319.65" fill="#111"/>
<text x="268" y="312.5" font-size="11" text-anchor="middle" font-weight="normal" font-style="normal" fill="#1a1a1a">k</text>
<line x1="128" y1="350" x2="269" y2="350" stroke="#2a2a2a" stroke-width="0.9"/>
<polygon points="155.90,350.00 142.70,352.45 142.70,347.55" fill="#111"/>
<polygon points="179.30,350.00 192.50,347.55 192.50,352.45" fill="#111"/>
<polygon points="218.30,350.00 205.10,352.45 205.10,347.55" fill="#111"/>
<polygon points="241.70,350.00 254.90,347.55 254.90,352.45" fill="#111"/>
<text x="167.5" y="345.5" font-size="11" text-anchor="middle" font-weight="normal" font-style="normal" fill="#1a1a1a">n<tspan font-size="8.5">1</tspan></text>
<text x="230" y="345.5" font-size="11" text-anchor="middle" font-weight="normal" font-style="normal" fill="#1a1a1a">n<tspan font-size="8.5">2</tspan></text>
<line x1="139" y1="382.4" x2="225" y2="382.4" stroke="#2a2a2a" stroke-width="0.9"/>
<polygon points="166.30,382.40 153.10,384.85 153.10,379.95" fill="#111"/>
<polygon points="197.40,382.40 210.60,379.95 210.60,384.85" fill="#111"/>
<text x="181.5" y="378" font-size="11" text-anchor="middle" font-weight="normal" font-style="normal" fill="#1a1a1a">g<tspan font-size="8.5">2</tspan></text>
<line x1="167.3" y1="419.6" x2="229.8" y2="419.6" stroke="#2a2a2a" stroke-width="0.9"/>
<polygon points="168.30,419.60 181.50,417.15 181.50,422.05" fill="#111"/>
<polygon points="228.80,419.60 215.60,422.05 215.60,417.15" fill="#111"/>
<text x="196.5" y="415" font-size="11" text-anchor="middle" font-weight="normal" font-style="normal" fill="#1a1a1a">a</text>
<line x1="156.9" y1="448" x2="240.7" y2="448" stroke="#2a2a2a" stroke-width="0.9"/>
<polygon points="157.90,448.00 171.10,445.55 171.10,450.45" fill="#111"/>
<polygon points="239.70,448.00 226.50,450.45 226.50,445.55" fill="#111"/>
<text x="197" y="444" font-size="11" text-anchor="middle" font-weight="normal" font-style="normal" fill="#1a1a1a">e<tspan font-size="8.5">2</tspan></text>
<line x1="637.6" y1="122.7" x2="637.6" y2="224.3" stroke="#2a2a2a" stroke-width="1.0"/>
<line x1="714.1" y1="122.7" x2="714.1" y2="325.7" stroke="#2a2a2a" stroke-width="0.9"/>
<line x1="714.1" y1="371.3" x2="714.1" y2="404.3" stroke="#2a2a2a" stroke-width="0.9"/>
<line x1="790.4" y1="122.7" x2="790.4" y2="224.3" stroke="#2a2a2a" stroke-width="1.0"/>
<line x1="637.6" y1="132.8" x2="790.4" y2="132.8" stroke="#2a2a2a" stroke-width="0.9"/>
<polygon points="638.60,132.80 651.80,130.35 651.80,135.25" fill="#111"/>
<polygon points="713.10,132.80 699.90,135.25 699.90,130.35" fill="#111"/>
<polygon points="715.10,132.80 728.30,130.35 728.30,135.25" fill="#111"/>
<polygon points="789.40,132.80 776.20,135.25 776.20,130.35" fill="#111"/>
<text x="673" y="128.5" font-size="11" text-anchor="middle" font-weight="normal" font-style="normal" fill="#1a1a1a" letter-spacing="0.8">L<tspan font-size="8.5">1</tspan></text>
<text x="751.5" y="128.5" font-size="11" text-anchor="middle" font-weight="normal" font-style="normal" fill="#1a1a1a" letter-spacing="0.8">L<tspan font-size="8.5">1</tspan></text>
<line x1="673.3" y1="158" x2="673.3" y2="210.4" stroke="#2a2a2a" stroke-width="1.0"/>
<line x1="673.3" y1="167.7" x2="714.1" y2="167.7" stroke="#2a2a2a" stroke-width="0.9"/>
<polygon points="674.30,167.70 687.50,165.25 687.50,170.15" fill="#111"/>
<polygon points="713.10,167.70 699.90,170.15 699.90,165.25" fill="#111"/>
<text x="695" y="163.6" font-size="11" text-anchor="middle" font-weight="normal" font-style="normal" fill="#1a1a1a">L<tspan font-size="8.5">2</tspan></text>
<rect x="688.7" y="188.5" width="50.6" height="5.3" rx="2.5" fill="none" stroke="#2a2a2a" stroke-width="1"/>
<line x1="573.6" y1="188.6" x2="688.7" y2="188.6" stroke="#2a2a2a" stroke-width="1.0"/>
<polyline points="688.7,193.8 673.6,210.4" fill="none" stroke="#2a2a2a" stroke-width="1"/>
<polyline points="739.3,193.8 754.8,210.4" fill="none" stroke="#2a2a2a" stroke-width="1"/>
<line x1="712.6" y1="193.8" x2="712.6" y2="210.4" stroke="#2a2a2a" stroke-width="0.8"/>
<line x1="716" y1="193.8" x2="716" y2="210.4" stroke="#2a2a2a" stroke-width="0.8"/>
<rect x="673.6" y="210.4" width="81.2" height="20" fill="none" stroke="#2a2a2a" stroke-width="1"/>
<line x1="677" y1="220" x2="750" y2="220" stroke="#2a2a2a" stroke-width="0.9"/>
<circle cx="682.9" cy="220" r="3.1" fill="none" stroke="#2a2a2a" stroke-width="0.9"/>
<line x1="682.9" y1="214.3" x2="682.9" y2="226" stroke="#2a2a2a" stroke-width="0.8"/>
<line x1="676.9" y1="220" x2="688.9" y2="220" stroke="#2a2a2a" stroke-width="0.8"/>
<circle cx="745.4" cy="220" r="3.1" fill="none" stroke="#2a2a2a" stroke-width="0.9"/>
<line x1="745.4" y1="214.3" x2="745.4" y2="226" stroke="#2a2a2a" stroke-width="0.8"/>
<line x1="739.4" y1="220" x2="751.4" y2="220" stroke="#2a2a2a" stroke-width="0.8"/>
<circle cx="682.9" cy="282.6" r="3.1" fill="none" stroke="#2a2a2a" stroke-width="0.9"/>
<line x1="682.9" y1="276.90000000000003" x2="682.9" y2="288.6" stroke="#2a2a2a" stroke-width="0.8"/>
<line x1="676.9" y1="282.6" x2="688.9" y2="282.6" stroke="#2a2a2a" stroke-width="0.8"/>
<circle cx="745.4" cy="282.6" r="3.1" fill="none" stroke="#2a2a2a" stroke-width="0.9"/>
<line x1="745.4" y1="276.90000000000003" x2="745.4" y2="288.6" stroke="#2a2a2a" stroke-width="0.8"/>
<line x1="739.4" y1="282.6" x2="751.4" y2="282.6" stroke="#2a2a2a" stroke-width="0.8"/>
<rect x="637.6" y="224.3" width="32.6" height="18.9" fill="none" stroke="#2a2a2a" stroke-width="1"/>
<rect x="641.3" y="224.6" width="26" height="3" rx="1.5" fill="none" stroke="#2a2a2a" stroke-width="0.9"/>
<rect x="757.9" y="224.3" width="32.8" height="18.9" fill="none" stroke="#2a2a2a" stroke-width="1"/>
<rect x="760.5" y="224.6" width="26" height="3" rx="1.5" fill="none" stroke="#2a2a2a" stroke-width="0.9"/>
<rect x="670.1" y="224.3" width="3.5" height="21.4" rx="1.5" fill="none" stroke="#2a2a2a" stroke-width="0.9"/>
<rect x="754.8" y="224.3" width="3.3" height="21.4" rx="1.5" fill="none" stroke="#2a2a2a" stroke-width="0.9"/>
<line x1="607.9" y1="234.3" x2="793" y2="234.3" stroke="#2a2a2a" stroke-width="0.9"/>
<path d="M674.3,230.4 L674.3,264.3 L678.6,268" fill="none" stroke="#2a2a2a" stroke-width="1.0"/>
<line x1="678.6" y1="230.4" x2="678.6" y2="276.4" stroke="#2a2a2a" stroke-width="1.0"/>
<line x1="750" y1="230.4" x2="750" y2="276.4" stroke="#2a2a2a" stroke-width="1.0"/>
<path d="M754.3,230.4 L754.3,262 L751.4,268" fill="none" stroke="#2a2a2a" stroke-width="1.0"/>
<line x1="672.5" y1="245.7" x2="672.5" y2="253.6" stroke="#2a2a2a" stroke-width="0.8"/>
<line x1="678.6" y1="239.3" x2="711.2" y2="239.3" stroke="#2a2a2a" stroke-width="0.9"/>
<line x1="717.2" y1="239.3" x2="750" y2="239.3" stroke="#2a2a2a" stroke-width="0.9"/>
<line x1="678.6" y1="248.6" x2="711.2" y2="248.6" stroke="#2a2a2a" stroke-width="0.9"/>
<line x1="717.2" y1="248.6" x2="750" y2="248.6" stroke="#2a2a2a" stroke-width="0.9"/>
<line x1="678.6" y1="257.9" x2="711.2" y2="257.9" stroke="#2a2a2a" stroke-width="0.9"/>
<line x1="717.2" y1="257.9" x2="750" y2="257.9" stroke="#2a2a2a" stroke-width="0.9"/>
<line x1="678.6" y1="267.1" x2="711.2" y2="267.1" stroke="#2a2a2a" stroke-width="0.9"/>
<line x1="717.2" y1="267.1" x2="750" y2="267.1" stroke="#2a2a2a" stroke-width="0.9"/>
<line x1="712.0" y1="230.4" x2="712.0" y2="267.1" stroke="#2a2a2a" stroke-width="0.8"/>
<line x1="716.4" y1="230.4" x2="716.4" y2="267.1" stroke="#2a2a2a" stroke-width="0.8"/>
<path d="M754.3,243 L770,243 L770,262.1 L754.3,262.1" fill="none" stroke="#2a2a2a" stroke-width="1.0"/>
<line x1="772" y1="243" x2="772" y2="404.3" stroke="#2a2a2a" stroke-width="1.0"/>
<path d="M676.4,276.4 L700,276.4 Q702,276.4 703.5,274 A11.4,11.4 0 0 1 725,274 Q726.5,276.4 728.5,276.4 L751.4,276.4" fill="none" stroke="#2a2a2a" stroke-width="1.0"/>
<circle cx="714.3" cy="278.6" r="9.6" fill="none" stroke="#2a2a2a" stroke-width="1.1"/>
<path d="M675.4,351.6 L675.4,279 Q675.4,276.4 678,276.4" fill="none" stroke="#2a2a2a" stroke-width="0.0"/>
<line x1="675.4" y1="279" x2="675.4" y2="375.7" stroke="#2a2a2a" stroke-width="1.0"/>
<line x1="752.1" y1="279" x2="752.1" y2="375.7" stroke="#2a2a2a" stroke-width="1.0"/>
<path d="M676.4,276.4 Q675.4,276.6 675.4,279" fill="none" stroke="#2a2a2a" stroke-width="1.0"/>
<path d="M751.4,276.4 Q752.1,276.6 752.1,279" fill="none" stroke="#2a2a2a" stroke-width="1.0"/>
<line x1="678.6" y1="282.6" x2="750" y2="282.6" stroke="#2a2a2a" stroke-width="0.9"/>
<line x1="675.4" y1="288.6" x2="752.1" y2="288.6" stroke="#2a2a2a" stroke-width="0.9"/>
<line x1="675.4" y1="290.4" x2="752.1" y2="290.4" stroke="#2a2a2a" stroke-width="0.9"/>
<path d="M675.4,298 Q675.4,301.4 678.5,301.4 L749,301.4 Q752.1,301.4 752.1,298" fill="none" stroke="#2a2a2a" stroke-width="1.0"/>
<line x1="682.9" y1="282.6" x2="682.9" y2="351.6" stroke="#2a2a2a" stroke-width="0.9"/>
<line x1="745.4" y1="282.6" x2="745.4" y2="351.6" stroke="#2a2a2a" stroke-width="0.9"/>
<line x1="573.6" y1="301.6" x2="678.6" y2="301.6" stroke="#2a2a2a" stroke-width="1.0"/>
<line x1="582.9" y1="188.6" x2="582.9" y2="301.6" stroke="#2a2a2a" stroke-width="0.9"/>
<polygon points="582.90,189.60 585.35,202.80 580.45,202.80" fill="#111"/>
<polygon points="582.90,300.60 580.45,287.40 585.35,287.40" fill="#111"/>
<text x="579" y="245" font-size="11.5" text-anchor="middle" font-weight="normal" font-style="normal" fill="#1a1a1a" transform="rotate(-90 579 245)">H</text>
<line x1="617.1" y1="234.3" x2="617.1" y2="301.6" stroke="#2a2a2a" stroke-width="0.9"/>
<polygon points="617.10,235.30 619.55,248.50 614.65,248.50" fill="#111"/>
<polygon points="617.10,300.60 614.65,287.40 619.55,287.40" fill="#111"/>
<text x="613.5" y="267" font-size="11" text-anchor="middle" font-weight="normal" font-style="normal" fill="#1a1a1a" transform="rotate(-90 613.5 267)">h<tspan font-size="8.5">1</tspan></text>
<line x1="640" y1="279.3" x2="676.4" y2="279.3" stroke="#2a2a2a" stroke-width="0.9"/>
<line x1="640" y1="285.7" x2="675.4" y2="285.7" stroke="#2a2a2a" stroke-width="0.9"/>
<line x1="649.7" y1="250.7" x2="649.7" y2="330.7" stroke="#2a2a2a" stroke-width="0.9"/>
<polygon points="649.70,278.30 647.25,265.10 652.15,265.10" fill="#111"/>
<polygon points="649.70,286.70 652.15,299.90 647.25,299.90" fill="#111"/>
<text x="645.8" y="324.3" font-size="11" text-anchor="middle" font-weight="normal" font-style="normal" fill="#1a1a1a" transform="rotate(-90 645.8 324.3)">k</text>
<line x1="682.9" y1="342.7" x2="745.4" y2="342.7" stroke="#2a2a2a" stroke-width="0.9"/>
<polygon points="683.90,342.70 697.10,340.25 697.10,345.15" fill="#111"/>
<polygon points="744.40,342.70 731.20,345.15 731.20,340.25" fill="#111"/>
<text x="715" y="339" font-size="11" text-anchor="middle" font-weight="normal" font-style="normal" fill="#1a1a1a">b</text>
<line x1="675.4" y1="367.1" x2="752.1" y2="367.1" stroke="#2a2a2a" stroke-width="0.9"/>
<polygon points="676.40,367.10 689.60,364.65 689.60,369.55" fill="#111"/>
<polygon points="751.10,367.10 737.90,369.55 737.90,364.65" fill="#111"/>
<text x="713.8" y="363.2" font-size="11" text-anchor="middle" font-weight="normal" font-style="normal" fill="#1a1a1a">f</text>
<line x1="714.1" y1="395.4" x2="772" y2="395.4" stroke="#2a2a2a" stroke-width="0.9"/>
<polygon points="715.10,395.40 728.30,392.95 728.30,397.85" fill="#111"/>
<polygon points="771.00,395.40 757.80,397.85 757.80,392.95" fill="#111"/>
<text x="740.5" y="390.5" font-size="10.5" text-anchor="middle" font-weight="normal" font-style="normal" fill="#1a1a1a">AD</text>
<text x="744" y="420.6" font-size="9.5" text-anchor="middle" font-weight="normal" font-style="normal" fill="#333" letter-spacing="-0.28">见第<tspan font-size="10.6" stroke="#333" stroke-width="0.25" letter-spacing="-0.4">217</tspan>页附录电机尺寸表</text>
<defs><clipPath id="cc"><circle cx="356.9" cy="563.6" r="12.9"/></clipPath></defs>
<g clip-path="url(#cc)"><rect x="340" y="545" width="35" height="35" fill="url(#hat2)"/></g>
<defs><pattern id="hat2" patternUnits="userSpaceOnUse" width="2.6" height="2.6" patternTransform="rotate(45)"><line x1="0.6" y1="0" x2="0.6" y2="2.6" stroke="#555" stroke-width="0.75"/></pattern></defs>
<rect x="353.5" y="548.2" width="6.8" height="6" fill="#fff" stroke="none"/>
<circle cx="356.9" cy="563.6" r="12.9" fill="none" stroke="#2a2a2a" stroke-width="1.0"/>
<line x1="353.5" y1="499.3" x2="353.5" y2="554.5" stroke="#2a2a2a" stroke-width="1.0"/>
<line x1="360.3" y1="499.3" x2="360.3" y2="554.5" stroke="#2a2a2a" stroke-width="1.0"/>
<line x1="353.5" y1="548.4" x2="360.3" y2="548.4" stroke="#2a2a2a" stroke-width="0.9"/>
<line x1="342.2" y1="563.6" x2="372.4" y2="563.6" stroke="#2a2a2a" stroke-width="0.8"/>
<line x1="356.9" y1="549.7" x2="356.9" y2="578.3" stroke="#2a2a2a" stroke-width="0.8"/>
<line x1="325.2" y1="508.3" x2="405.7" y2="508.3" stroke="#2a2a2a" stroke-width="0.9"/>
<polygon points="352.50,508.30 339.30,510.75 339.30,505.85" fill="#111"/>
<polygon points="361.30,508.30 374.50,505.85 374.50,510.75" fill="#111"/>
<text x="397" y="504.2" font-size="11" text-anchor="middle" font-weight="normal" font-style="normal" fill="#1a1a1a">u</text>
<line x1="315.1" y1="548.6" x2="353.5" y2="548.6" stroke="#2a2a2a" stroke-width="0.9"/>
<line x1="315.1" y1="576.5" x2="357" y2="576.5" stroke="#2a2a2a" stroke-width="0.9"/>
<line x1="324.4" y1="520.2" x2="324.4" y2="604.6" stroke="#2a2a2a" stroke-width="0.9"/>
<polygon points="324.40,547.60 321.95,534.40 326.85,534.40" fill="#111"/>
<polygon points="324.40,577.50 326.85,590.70 321.95,590.70" fill="#111"/>
<text x="320" y="564.8" font-size="11" text-anchor="middle" font-weight="normal" font-style="normal" fill="#1a1a1a" transform="rotate(-90 320 564.8)">t</text>
<path d="M489.3,547.4 L454,547.4 Q448,549 449,556 Q451,562 450,567 Q447.5,573 450,579.2 L489.3,579.2" fill="none" stroke="#2a2a2a" stroke-width="1.0"/>
<path d="M450,579.2 Q447,573 447.8,568.5 Q449,563.5 452.5,563.8 Q457.5,565 457.8,571.5 Q458,577.5 455.5,579.2 Z" fill="url(#hat2)" stroke="#2a2a2a" stroke-width="0.8"/>
<line x1="489.3" y1="488" x2="489.3" y2="579.2" stroke="#2a2a2a" stroke-width="1.0"/>
<line x1="489.3" y1="551.2" x2="586.9" y2="551.2" stroke="#2a2a2a" stroke-width="1.0"/>
<line x1="489.3" y1="576.1" x2="586.9" y2="576.1" stroke="#2a2a2a" stroke-width="1.0"/>
<line x1="539.3" y1="488" x2="539.3" y2="576.1" stroke="#2a2a2a" stroke-width="1.0"/>
<line x1="540.6" y1="514.4" x2="540.6" y2="551.2" stroke="#2a2a2a" stroke-width="0.8"/>
<rect x="494.4" y="548.8" width="40.4" height="2.6" fill="none" stroke="#2a2a2a" stroke-width="0.9"/>
<line x1="494.4" y1="514.8" x2="494.4" y2="551.2" stroke="#2a2a2a" stroke-width="1.0"/>
<line x1="534.8" y1="514.8" x2="534.8" y2="551.2" stroke="#2a2a2a" stroke-width="1.0"/>
<line x1="437.7" y1="563" x2="553.5" y2="563" stroke="#2a2a2a" stroke-width="0.8"/>
<line x1="489.3" y1="497.8" x2="539.3" y2="497.8" stroke="#2a2a2a" stroke-width="0.9"/>
<polygon points="490.30,497.80 503.50,495.35 503.50,500.25" fill="#111"/>
<polygon points="538.30,497.80 525.10,500.25 525.10,495.35" fill="#111"/>
<text x="511" y="492.5" font-size="11" text-anchor="middle" font-weight="normal" font-style="normal" fill="#1a1a1a">l</text>
<line x1="494.4" y1="523.5" x2="534.8" y2="523.5" stroke="#2a2a2a" stroke-width="0.9"/>
<polygon points="495.40,523.50 508.60,521.05 508.60,525.95" fill="#111"/>
<polygon points="533.80,523.50 520.60,525.95 520.60,521.05" fill="#111"/>
<text x="516" y="519.5" font-size="11" text-anchor="middle" font-weight="normal" font-style="normal" fill="#1a1a1a">l<tspan font-size="8.5">2</tspan></text>
<line x1="540.6" y1="523.5" x2="582.8" y2="523.5" stroke="#2a2a2a" stroke-width="0.9"/>
<polygon points="541.60,523.50 554.80,521.05 554.80,525.95" fill="#111"/>
<text x="572" y="519.5" font-size="11" text-anchor="middle" font-weight="normal" font-style="normal" fill="#1a1a1a">l<tspan font-size="8.5">1</tspan></text>
<line x1="578.8" y1="522.5" x2="578.8" y2="604.5" stroke="#2a2a2a" stroke-width="0.9"/>
<polygon points="578.80,550.20 576.35,537.00 581.25,537.00" fill="#111"/>
<polygon points="578.80,577.10 581.25,590.30 576.35,590.30" fill="#111"/>
<text x="575" y="563.4" font-size="11" text-anchor="middle" font-weight="normal" font-style="normal" fill="#1a1a1a" transform="rotate(-90 575 563.4)">d</text>
<polyline points="549.4,556.9 539.5,563 548.4,571 548.4,605.5 533.2,605.5" fill="none" stroke="#2a2a2a" stroke-width="0.9"/>
<text x="538.3" y="602.4" font-size="11" text-anchor="middle" font-weight="normal" font-style="normal" fill="#1a1a1a">s</text>
<text x="5.5" y="35" font-size="20" font-weight="bold" font-style="italic" letter-spacing="1.35" fill="#111" stroke="#111" stroke-width="0.9">S47..~S97..</text>
</svg></body></html>
